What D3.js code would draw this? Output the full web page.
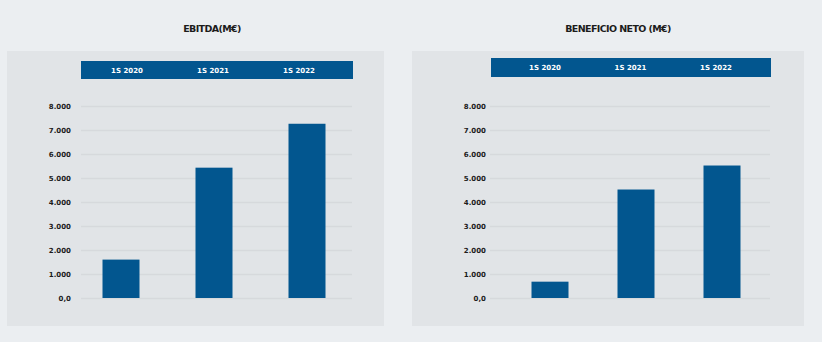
<!DOCTYPE html>
<html>
<head>
<meta charset="utf-8">
<script src="https://cdn.jsdelivr.net/npm/d3@7"></script>
<style>
  body { margin: 0; background: #ffffff; }
  .title { font-family: "DejaVu Sans", sans-serif; font-weight: 700; font-size: 9.5px; fill: #1b1b1b; letter-spacing: -0.6px; }
  .head-text { font-family: "DejaVu Sans", sans-serif; font-weight: 700; font-size: 7px; fill: #ffffff; }
  .tick-text { font-family: "DejaVu Sans", sans-serif; font-weight: 700; font-size: 7px; fill: #1b1b1b; }
</style>
</head>
<body>
<div id="chart"></div>
<script>
// data
const periods = ["1S 2020", "1S 2021", "1S 2022"];
const ebitda = [1600, 5430, 7260];
const beneficioNeto = [680, 4520, 5520];
const yTicks = [0, 1000, 2000, 3000, 4000, 5000, 6000, 7000, 8000];
const titles = ["EBITDA(M€)", "BENEFICIO NETO (M€)"];

const W = 828, H = 351;
const barColor = "#02568f";
const barWidth = 37;

const svg = d3.select("#chart")
  .append("svg")
    .attr("width", W)
    .attr("height", H);

// page background
svg.append("rect")
  .attr("x", 0).attr("y", 0)
  .attr("width", 822).attr("height", 342)
  .attr("fill", "#ebeef1");

// panel layouts (positions only)
const panels = [
  {title: titles[0], values: ebitda, cx: 212, box: [7, 51, 377, 275], head: [81, 61, 272, 18],
   plot: [81, 352], labelX: 71, bars: [121, 307], heads: [127, 299]},
  {title: titles[1], values: beneficioNeto, cx: 618, box: [412, 51, 392, 275], head: [491, 58, 280, 19],
   plot: [490, 770], labelX: 486, bars: [550, 722], heads: [545, 716]}
];

const fmt = d => d === 0 ? "0,0" : d3.format(",")(d).replace(/,/g, ".");

panels.forEach(p => {
  const g = svg.append("g");

  g.append("rect")
    .attr("x", p.box[0]).attr("y", p.box[1])
    .attr("width", p.box[2]).attr("height", p.box[3])
    .attr("fill", "#e1e4e7");

  g.append("text")
    .attr("class", "title")
    .attr("x", p.cx).attr("y", 32)
    .attr("text-anchor", "middle")
    .text(p.title);

  // header band
  g.append("rect")
    .attr("x", p.head[0]).attr("y", p.head[1])
    .attr("width", p.head[2]).attr("height", p.head[3])
    .attr("fill", barColor);

  const xScale = d3.scalePoint()
    .domain(periods)
    .range(p.bars);

  const headScale = d3.scalePoint()
    .domain(periods)
    .range(p.heads);

  const yScale = d3.scaleLinear()
    .domain([0, 8000])
    .range([298, 106]);

  g.selectAll(".head-text")
    .data(periods)
    .enter()
    .append("text")
      .attr("class", "head-text")
      .attr("x", d => headScale(d))
      .attr("y", p.head[1] + p.head[3] / 2 + 2.5)
      .attr("text-anchor", "middle")
      .text(d => d);

  // grid
  g.append("g")
    .attr("transform", `translate(${p.plot[0]},0)`)
    .call(d3.axisLeft(yScale)
      .tickValues(yTicks)
      .tickSize(-(p.plot[1] - p.plot[0]))
      .tickFormat(""))
    .call(a => a.select(".domain").remove())
    .call(a => a.selectAll("line").attr("stroke", "#d6d9dc").attr("stroke-width", 1.3));

  // tick labels
  g.selectAll(".tick-text")
    .data(yTicks)
    .enter()
    .append("text")
      .attr("class", "tick-text")
      .attr("x", p.labelX)
      .attr("y", d => yScale(d) + 2.5)
      .attr("text-anchor", "end")
      .text(fmt);

  // bars
  g.selectAll(".bar")
    .data(p.values)
    .enter()
    .append("rect")
      .attr("class", "bar")
      .attr("x", (d, i) => xScale(periods[i]) - barWidth / 2)
      .attr("y", d => yScale(d))
      .attr("width", barWidth)
      .attr("height", d => yScale(0) - yScale(d))
      .attr("fill", barColor);
});
</script>
</body>
</html>
